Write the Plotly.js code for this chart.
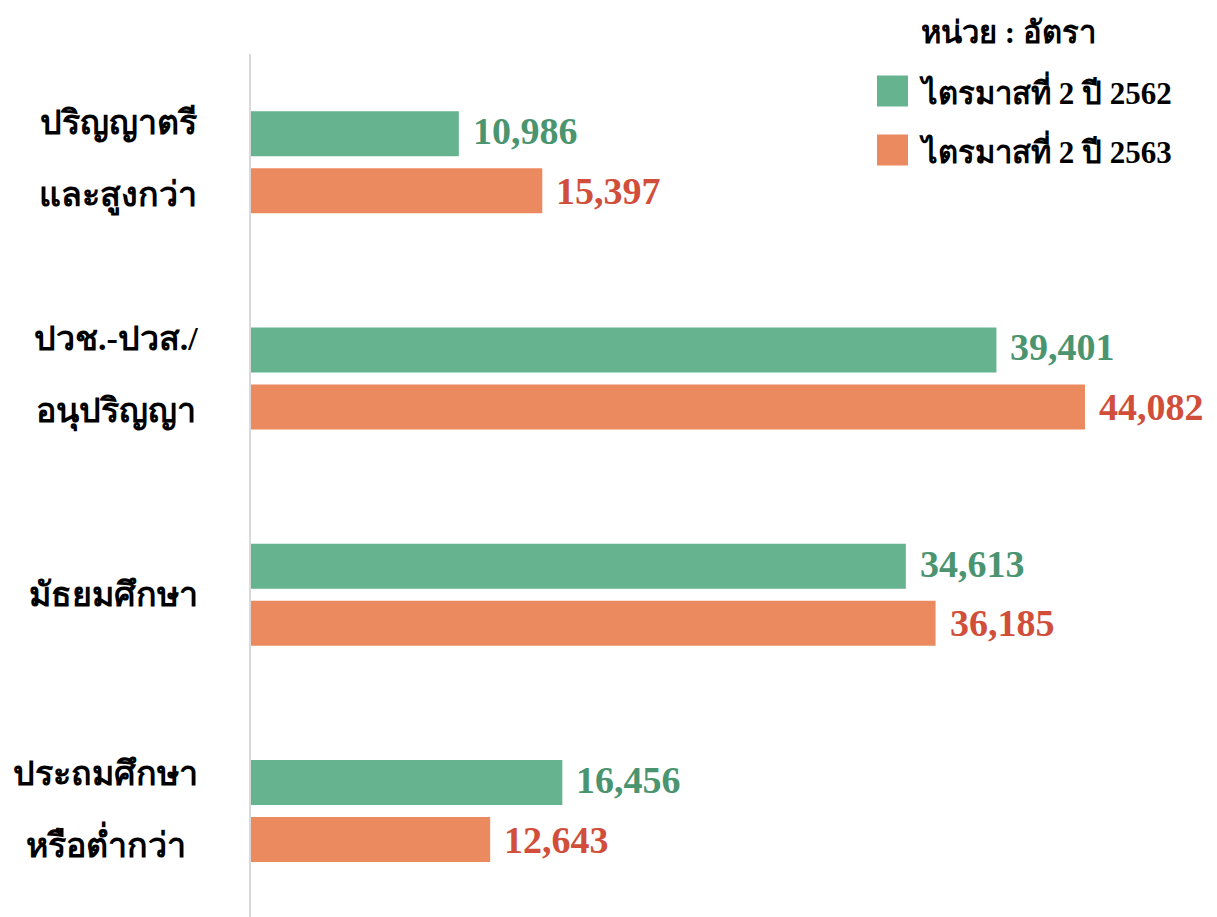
<!DOCTYPE html>
<html>
<head>
<meta charset="utf-8">
<script src="https://cdn.plot.ly/plotly-3.0.1.min.js"></script>
<style>html,body{margin:0;padding:0;background:#fff;}#chart{width:1217px;height:917px;}</style>
</head>
<body>
<div id="chart"></div>
<script>
// ---- data ----
const categories = ['ปริญญาตรีและสูงกว่า', 'ปวช.-ปวส./อนุปริญญา', 'มัธยมศึกษา', 'ประถมศึกษาหรือต่ำกว่า'];
const labelLine1 = ['ปริญญาตรี', 'ปวช.-ปวส./', 'มัธยมศึกษา', 'ประถมศึกษา'];
const labelLine2 = ['และสูงกว่า', 'อนุปริญญา', '', 'หรือต่ำกว่า'];
const seriesNames = ['ไตรมาสที่ 2 ปี 2562', 'ไตรมาสที่ 2 ปี 2563'];
const values2562 = [10986, 39401, 34613, 16456];
const values2563 = [15397, 44082, 36185, 12643];
const unitLabel = 'หน่วย : อัตรา';

// ---- styles ----
const barColors = ['#65B38F', '#EC8A5F'];
const textColors = ['#4A9470', '#D04E3A'];
const FONT = '"Liberation Serif", "Times New Roman", serif';
const W = 1217, H = 917;
const M = {l: 251, r: 0, t: 54, b: 0};
const pw = W - M.l - M.r, ph = H - M.t - M.b;
const px = x => (x - M.l) / pw;          // pixel -> paper x
const py = y => (H - M.b - y) / ph;      // pixel -> paper y

const fmt = v => v.toLocaleString('en-US');
const idx = categories.map((c, i) => i);

const traces = [values2562, values2563].map((vals, k) => ({
  type: 'bar', orientation: 'h',
  y: idx, x: vals, name: seriesNames[k],
  marker: {color: barColors[k]},
  hoverinfo: 'skip', showlegend: false
}));

const annotations = [];
// value labels
[values2562, values2563].forEach((vals, k) => {
  vals.forEach((v, i) => {
    annotations.push({
      x: v, y: i, xref: 'x', yref: 'y', text: fmt(v),
      xanchor: 'left', yanchor: 'middle', xshift: 12, yshift: k === 0 ? 31 : -28.5,
      showarrow: false, font: {family: FONT, size: 38, color: textColors[k], weight: 'bold'}
    });
  });
});
// category labels (centred block, right edge near 195px)
idx.forEach(i => {
  const lines = [labelLine1[i], labelLine2[i]].filter(s => s).map(s => '<span style="font-size:34px">' + s + '</span>');
  annotations.push({
    x: px(200), y: i, xref: 'paper', yref: 'y', text: lines.join('<br>'),
    xanchor: 'right', yanchor: 'middle', align: 'center', showarrow: false,
    yshift: lines.length > 1 ? 2 : 0,
    font: {family: FONT, size: 55, color: '#000', weight: 'bold'}
  });
});
// legend
annotations.push({x: px(919), y: py(33), xref: 'paper', yref: 'paper', text: unitLabel,
  xanchor: 'left', yanchor: 'middle', showarrow: false,
  font: {family: FONT, size: 31, color: '#000', weight: 'bold'}});
const legY = [91, 150];
const shapes = [];
seriesNames.forEach((n, k) => {
  annotations.push({x: px(917), y: py(legY[k]), xref: 'paper', yref: 'paper', text: n,
    xanchor: 'left', yanchor: 'middle', showarrow: false,
    font: {family: FONT, size: 31, color: '#000', weight: 'bold'}});
  shapes.push({type: 'rect', xref: 'paper', yref: 'paper',
    x0: px(877), x1: px(908), y0: py(legY[k] + 15.5), y1: py(legY[k] - 15.5),
    fillcolor: barColors[k], line: {width: 0}});
});

const layout = {
  width: W, height: H,
  margin: M,
  paper_bgcolor: '#fff', plot_bgcolor: '#fff',
  barmode: 'group', bargap: 0.473, bargroupgap: 0.21,
  xaxis: {range: [0, 51060], showgrid: false, zeroline: false, showticklabels: false,
          showline: false, fixedrange: true},
  yaxis: {range: [3.49, -0.5], tickvals: idx, ticktext: categories, showticklabels: false,
          showgrid: false, zeroline: false, showline: true, linecolor: '#D9D9D9', linewidth: 2,
          fixedrange: true},
  annotations: annotations,
  shapes: shapes,
  showlegend: false,
  font: {family: FONT}
};

Plotly.newPlot('chart', traces, layout, {displayModeBar: false, staticPlot: true});
</script>
</body>
</html>
